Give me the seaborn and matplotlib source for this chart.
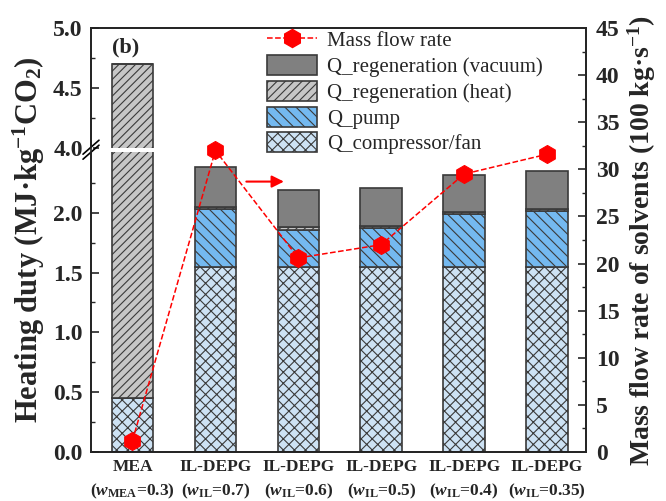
import numpy as np
import matplotlib
matplotlib.use("Agg")
import matplotlib.pyplot as plt
import seaborn as sns
from matplotlib.lines import Line2D
from matplotlib.patches import Patch, Rectangle
from matplotlib.ticker import FixedLocator, FormatStrFormatter, MultipleLocator

# ---------------- data ----------------
categories = ["MEA", "IL-DEPG 0.7", "IL-DEPG 0.6", "IL-DEPG 0.5", "IL-DEPG 0.4", "IL-DEPG 0.35"]
tick_labels = [
    "MEA\n($w_{\\mathbf{MEA}}$=0.3)",
    "IL-DEPG\n($w_{\\mathbf{IL}}$=0.7)",
    "IL-DEPG\n($w_{\\mathbf{IL}}$=0.6)",
    "IL-DEPG\n($w_{\\mathbf{IL}}$=0.5)",
    "IL-DEPG\n($w_{\\mathbf{IL}}$=0.4)",
    "IL-DEPG\n($w_{\\mathbf{IL}}$=0.35)",
]
q_compressor = [0.45, 1.55, 1.55, 1.55, 1.55, 1.55]
q_pump = [0.0, 0.48, 0.31, 0.325, 0.44, 0.465]
q_heat = [4.25, 0.018, 0.018, 0.018, 0.018, 0.018]
q_vacuum = [0.0, 0.335, 0.316, 0.314, 0.305, 0.313]
mass_flow = [1.2, 32.0, 20.6, 22.0, 29.5, 31.6]

legend_labels = ["Mass flow rate", "Q_regeneration (vacuum)", "Q_regeneration (heat)",
                 "Q_pump", "Q_compressor/fan"]

# ---------------- style ----------------
sns.set_style("white")
plt.rcParams["font.family"] = ["Liberation Serif", "DejaVu Serif"]
plt.rcParams["mathtext.fontset"] = "custom"
plt.rcParams["mathtext.rm"] = "Liberation Serif:bold"
plt.rcParams["mathtext.bf"] = "Liberation Serif:bold"
plt.rcParams["mathtext.it"] = "Liberation Serif:italic:bold"
plt.rcParams["hatch.linewidth"] = 0.8

EDGE = "#3a3a3a"
C_VAC = "#808080"
C_HEAT = "#c6c6c6"
C_PUMP = "#74b9f0"
C_COMP = "#cde2f4"
H_HEAT = "////"
H_PUMP = "\\\\\\"
H_COMP = "xxx"

fig = plt.figure(figsize=(6.66, 5.01), dpi=100)
ax = fig.add_axes([91 / 666, 49 / 501, 495 / 666, 424 / 501])

# ---------------- broken y scale ----------------
LOW_TOP = 2.52
UP_BOT = 3.99
K = 0.01
MID = LOW_TOP + (UP_BOT - LOW_TOP) * K


def fwd(y):
    y = np.asarray(y, dtype=float)
    return np.where(y <= LOW_TOP, y,
                    np.where(y < UP_BOT, LOW_TOP + (y - LOW_TOP) * K, MID + (y - UP_BOT)))


def inv(v):
    v = np.asarray(v, dtype=float)
    return np.where(v <= LOW_TOP, v,
                    np.where(v < MID, LOW_TOP + (v - LOW_TOP) / K, UP_BOT + (v - MID)))


# ---------------- stacked bars ----------------
comp = np.array(q_compressor)
pump = np.array(q_pump)
heat = np.array(q_heat)
vac = np.array(q_vacuum)

layers = [
    (comp, np.zeros_like(comp), C_COMP, H_COMP),
    (pump, comp, C_PUMP, H_PUMP),
    (heat, comp + pump, C_HEAT, H_HEAT),
    (vac, comp + pump + heat, C_VAC, None),
]
for vals, bottom, col, hatch in layers:
    sns.barplot(x=categories, y=vals, bottom=bottom, ax=ax, color=col, saturation=1,
                width=0.5, errorbar=None, edgecolor=EDGE, linewidth=1.2, hatch=hatch,
                zorder=2)

ax.set_yscale("function", functions=(fwd, inv))
ax.set_ylim(0, 5.0)
ax.set_xlim(-0.5, 5.47)

# white gap across the MEA bar at the break
ax.add_patch(Rectangle((-0.3, 2.505), 0.6, 3.995 - 2.505, facecolor="white",
                       edgecolor="none", zorder=5))

ax.yaxis.set_major_locator(FixedLocator([0, 0.5, 1.0, 1.5, 2.0, 4.0, 4.5, 5.0]))
ax.yaxis.set_minor_locator(FixedLocator([0.25, 0.75, 1.25, 1.75, 2.25, 4.25, 4.75]))
ax.yaxis.set_major_formatter(FormatStrFormatter("%.1f"))
ax.set_xticks(range(len(categories)))
ax.set_xticklabels(tick_labels, fontsize=12.5, fontweight="bold", linespacing=1.5)
ax.tick_params(axis="y", which="major", direction="in", length=6, width=1.2,
               labelsize=17, pad=6, right=False)
ax.tick_params(axis="y", which="minor", direction="in", length=3, width=1.0, right=False)
ax.tick_params(axis="x", which="major", direction="in", length=5, width=1.2, pad=5,
               top=False)
for lbl in ax.get_yticklabels():
    lbl.set_fontweight("bold")
for sp in ax.spines.values():
    sp.set_linewidth(1.2)
    sp.set_color("black")

ax.set_xlabel("")
ax.set_ylabel("Heating duty (MJ·kg$^{\\mathbf{-1}}$CO$_{\\mathbf{2}}$)",
              fontsize=22, fontweight="bold", labelpad=4)

# break marks on the left spine
brk = float(fwd(0.5 * (LOW_TOP + UP_BOT)) / fwd(5.0))
dx, dy, off = 8 / 495, 7 / 424, 2.5 / 424
ax.add_patch(Rectangle((-0.004, brk - off), 0.008, 2 * off, transform=ax.transAxes,
                       facecolor="white", edgecolor="none", clip_on=False, zorder=6))
for o in (-off, off):
    ax.plot([-dx, dx], [brk + o - dy, brk + o + dy], transform=ax.transAxes,
            color="black", lw=1.2, clip_on=False, zorder=7)

ax.text(0.042, 0.953, "(b)", transform=ax.transAxes, fontsize=16, fontweight="bold",
        ha="left", va="center")

# ---------------- mass flow (right axis) ----------------
ax2 = ax.twinx()
positions = np.arange(len(categories))
sns.lineplot(x=positions, y=mass_flow, ax=ax2, color="red", marker="h", markersize=13,
             markeredgecolor="red", linestyle="--", linewidth=1.1, sort=False)
ax2.set_ylim(0, 45)
ax2.yaxis.set_major_locator(MultipleLocator(5))
ax2.yaxis.set_minor_locator(MultipleLocator(2.5))
ax2.tick_params(axis="y", which="major", direction="in", length=6, width=1.2,
                labelsize=17, pad=7)
ax2.tick_params(axis="y", which="minor", direction="in", length=3, width=1.0)
for lbl in ax2.get_yticklabels():
    lbl.set_fontweight("bold")
ax2.set_ylabel("Mass flow rate of solvents (100 kg·s$^{\\mathbf{-1}}$)",
               fontsize=20, fontweight="bold", labelpad=4)
ax2.set_xlim(-0.5, 5.47)
for sp in ax2.spines.values():
    sp.set_linewidth(1.2)

ax2.annotate("", xy=(1.86, 28.7), xytext=(1.34, 28.7),
             arrowprops=dict(arrowstyle="-|>", color="red", lw=1.5, mutation_scale=18))

# ---------------- legend ----------------
handles = [
    Line2D([], [], color="red", linestyle="--", marker="h", markersize=13,
           markeredgecolor="red", linewidth=1.1),
    Patch(facecolor=C_VAC, edgecolor=EDGE, linewidth=1.2),
    Patch(facecolor=C_HEAT, edgecolor=EDGE, linewidth=1.2, hatch=H_HEAT),
    Patch(facecolor=C_PUMP, edgecolor=EDGE, linewidth=1.2, hatch=H_PUMP),
    Patch(facecolor=C_COMP, edgecolor=EDGE, linewidth=1.2, hatch=H_COMP),
]
ax2.legend(handles, legend_labels, loc="upper left",
           bbox_to_anchor=(267 / 666, 1 - 29 / 501), bbox_transform=fig.transFigure,
           frameon=False, fontsize=15, borderpad=0, borderaxespad=0,
           handlelength=2.4, handleheight=1.1, handletextpad=0.5, labelspacing=0.18)

fig.savefig("out.png", dpi=100)
